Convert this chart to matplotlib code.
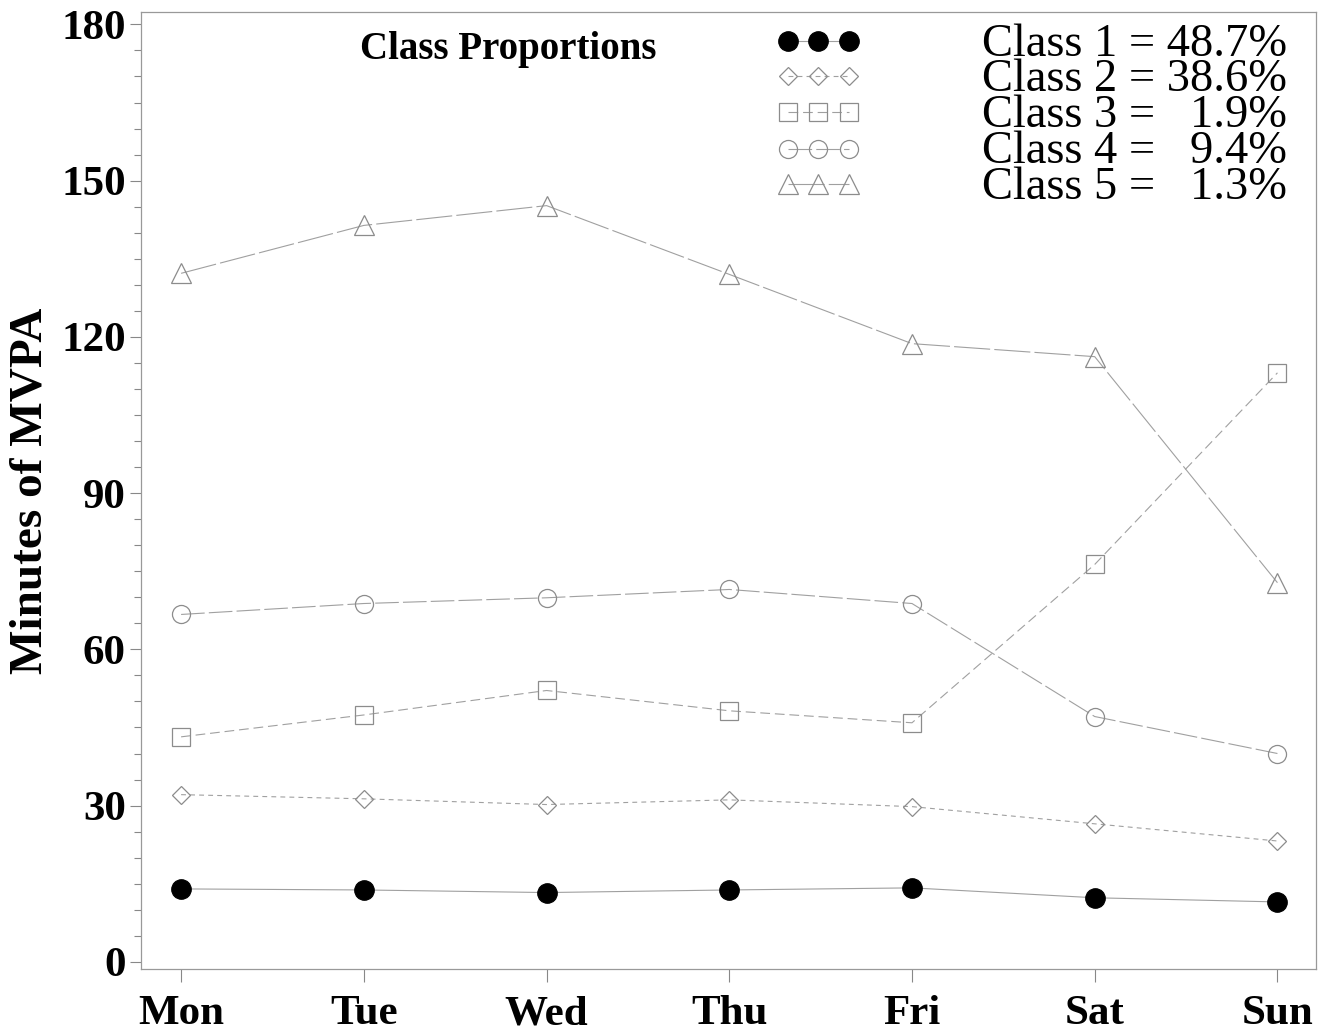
import matplotlib
matplotlib.use("Agg")
import matplotlib.pyplot as plt
from matplotlib.ticker import MultipleLocator

plt.rcParams['font.family'] = ['Liberation Serif', 'DejaVu Serif']
plt.rcParams['lines.scale_dashes'] = False

days = ['Mon', 'Tue', 'Wed', 'Thu', 'Fri', 'Sat', 'Sun']
class1 = [14.0, 13.8, 13.3, 13.8, 14.2, 12.3, 11.5]
class2 = [32.1, 31.3, 30.2, 31.1, 29.8, 26.5, 23.2]
class3 = [43.2, 47.4, 52.1, 48.2, 45.9, 76.3, 113.1]
class4 = [66.7, 68.8, 69.9, 71.5, 68.8, 47.1, 40.0]
class5 = [132.2, 141.4, 145.2, 132.0, 118.7, 116.2, 72.8]
legend_text = ['Class 1 = 48.7%', 'Class 2 = 38.6%', 'Class 3 =   1.9%',
               'Class 4 =   9.4%', 'Class 5 =   1.3%']

line_col = '#a0a0a0'
edge_col = '#8c8c8c'
styles = [
    dict(marker='o', ms=14, mfc='black', mec='black', ls='-'),
    dict(marker='D', ms=9, mfc='none', mec=edge_col, ls=(0, (3.5, 3))),
    dict(marker='s', ms=12.5, mfc='none', mec=edge_col, ls=(0, (7, 3.5))),
    dict(marker='o', ms=13, mfc='none', mec=edge_col, ls=(0, (17, 3))),
    dict(marker='^', ms=14, mfc='none', mec=edge_col, ls=(0, (26, 3))),
]
series = [class1, class2, class3, class4, class5]

fig = plt.figure(figsize=(13.31, 10.34), dpi=100)
ax = fig.add_axes([0.106, 0.063, 0.883, 0.925])

x = list(range(len(days)))
for vals, st in zip(series, styles):
    ax.plot(x, vals, color=line_col, lw=0.8, linestyle=st['ls'],
            marker=st['marker'], markersize=st['ms'], markerfacecolor=st['mfc'],
            markeredgecolor=st['mec'], markeredgewidth=0.9)

ax.set_xlim(-0.219, 6.213)
ax.set_ylim(-1.35, 182.3)
ax.set_xticks(x)
ax.set_xticklabels(days, fontsize=31, fontweight='bold')
ax.yaxis.set_major_locator(MultipleLocator(30))
ax.yaxis.set_minor_locator(MultipleLocator(5))
for lab in ax.get_yticklabels():
    lab.set_fontsize(31)
    lab.set_fontweight('bold')
ax.tick_params(axis='y', which='major', length=8, color='#888888', width=0.8, pad=3)
ax.tick_params(axis='y', which='minor', length=5, color='#888888', width=0.8)
ax.tick_params(axis='x', length=9, color='#888888', width=0.8, pad=10)
for sp in ax.spines.values():
    sp.set_color('#999999')
    sp.set_linewidth(0.9)

ax.set_ylabel('Minutes of MVPA', fontsize=34, fontweight='bold')
ax.yaxis.set_label_coords(-0.076, 0.5)

# key: three marker samples per class, then the proportion text
key_x = [0.5506, 0.5762, 0.6026]
key_y = [0.9697, 0.9331, 0.8954, 0.8577, 0.8201]
for yy, st, txt in zip(key_y, styles, legend_text):
    ax.plot(key_x, [yy] * 3, transform=ax.transAxes, clip_on=False,
            color=line_col, lw=0.8, linestyle=st['ls'],
            marker=st['marker'], markersize=st['ms'], markerfacecolor=st['mfc'],
            markeredgecolor=st['mec'], markeredgewidth=0.9)
    ax.text(0.9753, yy - 0.003, txt, transform=ax.transAxes, ha='right',
            va='center', fontsize=33.5)
ax.text(0.3123, 0.9615, 'Class Proportions', transform=ax.transAxes,
        ha='center', va='center', fontsize=28, fontweight='bold')

fig.savefig('out.png', dpi=100)
